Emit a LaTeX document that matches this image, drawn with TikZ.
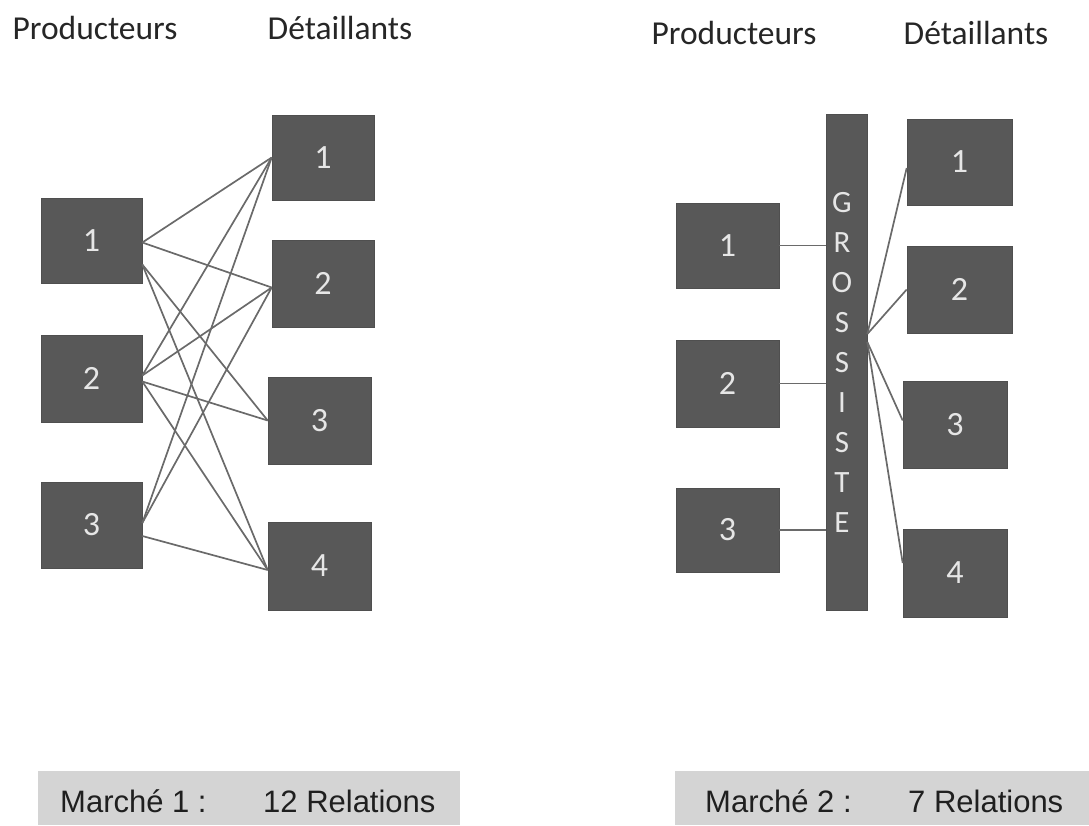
\documentclass[tikz,border=0pt]{standalone}
\usepackage{fontspec}
\setmainfont{Carlito}
\newfontfamily\labelfont{Liberation Sans}
\usetikzlibrary{calc}
\definecolor{boxgray}{HTML}{585858}
\definecolor{linkgray}{HTML}{6A6A6A}
\definecolor{numgray}{HTML}{E6E6E6}
\definecolor{bandgray}{HTML}{D4D4D4}
\definecolor{headgray}{HTML}{262626}
\tikzset{
  unit/.style={draw=boxgray!90!black, line width=0.6pt, fill=boxgray, text=numgray,
    minimum width=102pt, minimum height=86pt, inner sep=0pt,
    font=\fontsize{34}{34}\selectfont},
  bar/.style={draw=boxgray!90!black, line width=0.6pt, fill=boxgray,
    minimum width=41pt, minimum height=496pt, inner sep=0pt},
  link/.style={draw=linkgray, line width=1.7pt},
  heading/.style={text=headgray, font=\fontsize{33.5}{34}\selectfont, inner sep=0pt},
  band/.style={fill=bandgray, draw=none},
  bandtext/.style={text=black!88, font=\labelfont\fontsize{31}{31}\selectfont, inner sep=0pt, anchor=west}
}
\begin{document}
\begin{tikzpicture}[x=1pt,y=-1pt]
\useasboundingbox (0,0) rectangle (1089,825);

% ---------- Market 1: direct links ----------
\node[heading] (h1) at (95,28) {Producteurs};
\node[heading] (h2) at (340,28) {Détaillants};

\node[unit, minimum width=101pt, minimum height=85pt] (p1) at (91.5,240.5) {1};
\node[unit, minimum width=101pt, minimum height=87pt] (p2) at (91.5,378.5) {2};
\node[unit, minimum width=101pt] (p3) at (91.5,525) {3};

\node[unit, minimum height=85pt] (d1) at (323,157.5) {1};
\node[unit, minimum height=87pt] (d2) at (323,283.5) {2};
\node[unit, minimum width=103pt, minimum height=87pt] (d3) at (319.5,420.5) {3};
\node[unit, minimum width=103pt, minimum height=88pt] (d4) at (319.5,566) {4};

\coordinate (p1a) at ($(p1.east)+(0,2)$);
\coordinate (p1b) at ($(p1.east)+(0,24)$);
\coordinate (p2a) at ($(p2.east)+(0,-3)$);
\coordinate (p2b) at ($(p2.east)+(0,3)$);
\coordinate (p3a) at ($(p3.east)+(0,-2)$);
\coordinate (p3b) at ($(p3.east)+(0,11)$);
\coordinate (d2in) at ($(d2.west)+(0,4)$);
\coordinate (d4in) at ($(d4.west)+(0,4)$);

\draw[link] (p1a) -- (d1.west);
\draw[link] (p1a) -- (d2in);
\draw[link] (p1b) -- (d3.west);
\draw[link] (p1b) -- (d4in);
\draw[link] (p2a) -- (d1.west);
\draw[link] (p2a) -- (d2in);
\draw[link] (p2b) -- (d3.west);
\draw[link] (p2b) -- (d4in);
\draw[link] (p3a) -- (d1.west);
\draw[link] (p3a) -- (d2in);
\draw[link] (p3b) -- (d4in);

% ---------- Market 2: through the wholesaler ----------
\node[heading] (h3) at (734,33) {Producteurs};
\node[heading] (h4) at (976,33) {Détaillants};

\node[unit, minimum width=103pt, minimum height=85pt] (q1) at (727.5,245.5) {1};
\node[unit, minimum width=103pt, minimum height=87pt] (q2) at (727.5,383.5) {2};
\node[unit, minimum width=103pt, minimum height=84pt] (q3) at (727.5,530) {3};

\node[bar] (g) at (846.5,362) {};
\node[text=numgray, align=center, inner sep=0pt,
      font=\fontsize{31}{39.9}\selectfont] (gl) at (842,362.5)
  {G\\R\\O\\S\\S\\I\\S\\T\\E};

\node[unit, minimum width=105pt, minimum height=86pt] (e1) at (959.5,162) {1};
\node[unit, minimum width=105pt, minimum height=87pt] (e2) at (959.5,289.5) {2};
\node[unit, minimum width=104pt, minimum height=87pt] (e3) at (955,424.5) {3};
\node[unit, minimum width=104pt, minimum height=88pt] (e4) at (955,573) {4};

\draw[link] (q1.east) -- (q1.east -| g.west);
\draw[link] (q2.east) -- (q2.east -| g.west);
\draw[link] (q3.east) -- (q3.east -| g.west);

\coordinate (gup) at ($(g.east)+(0,-28)$);
\coordinate (gdn) at ($(g.east)+(0,-20)$);
\coordinate (e1in) at ($(e1.west)+(0,6)$);
\coordinate (e3in) at ($(e3.west)+(0,-4)$);
\coordinate (e4in) at ($(e4.west)+(0,-10)$);

\draw[link] (gup) -- (e1in);
\draw[link] (gup) -- (e2.west);
\draw[link] (gdn) -- (e3in);
\draw[link] (gdn) -- (e4in);

% ---------- Summary bands ----------
\path[band] (38,771) rectangle (460,825);
\path[band] (675,771) rectangle (1089,825);
\node[bandtext] (m1) at (60,801) {Marché 1 :};
\node[bandtext] (r1) at (263,801) {12 Relations};
\node[bandtext] (m2) at (705,801) {Marché 2 :};
\node[bandtext] (r2) at (908,801) {7 Relations};
\end{tikzpicture}
\end{document}
